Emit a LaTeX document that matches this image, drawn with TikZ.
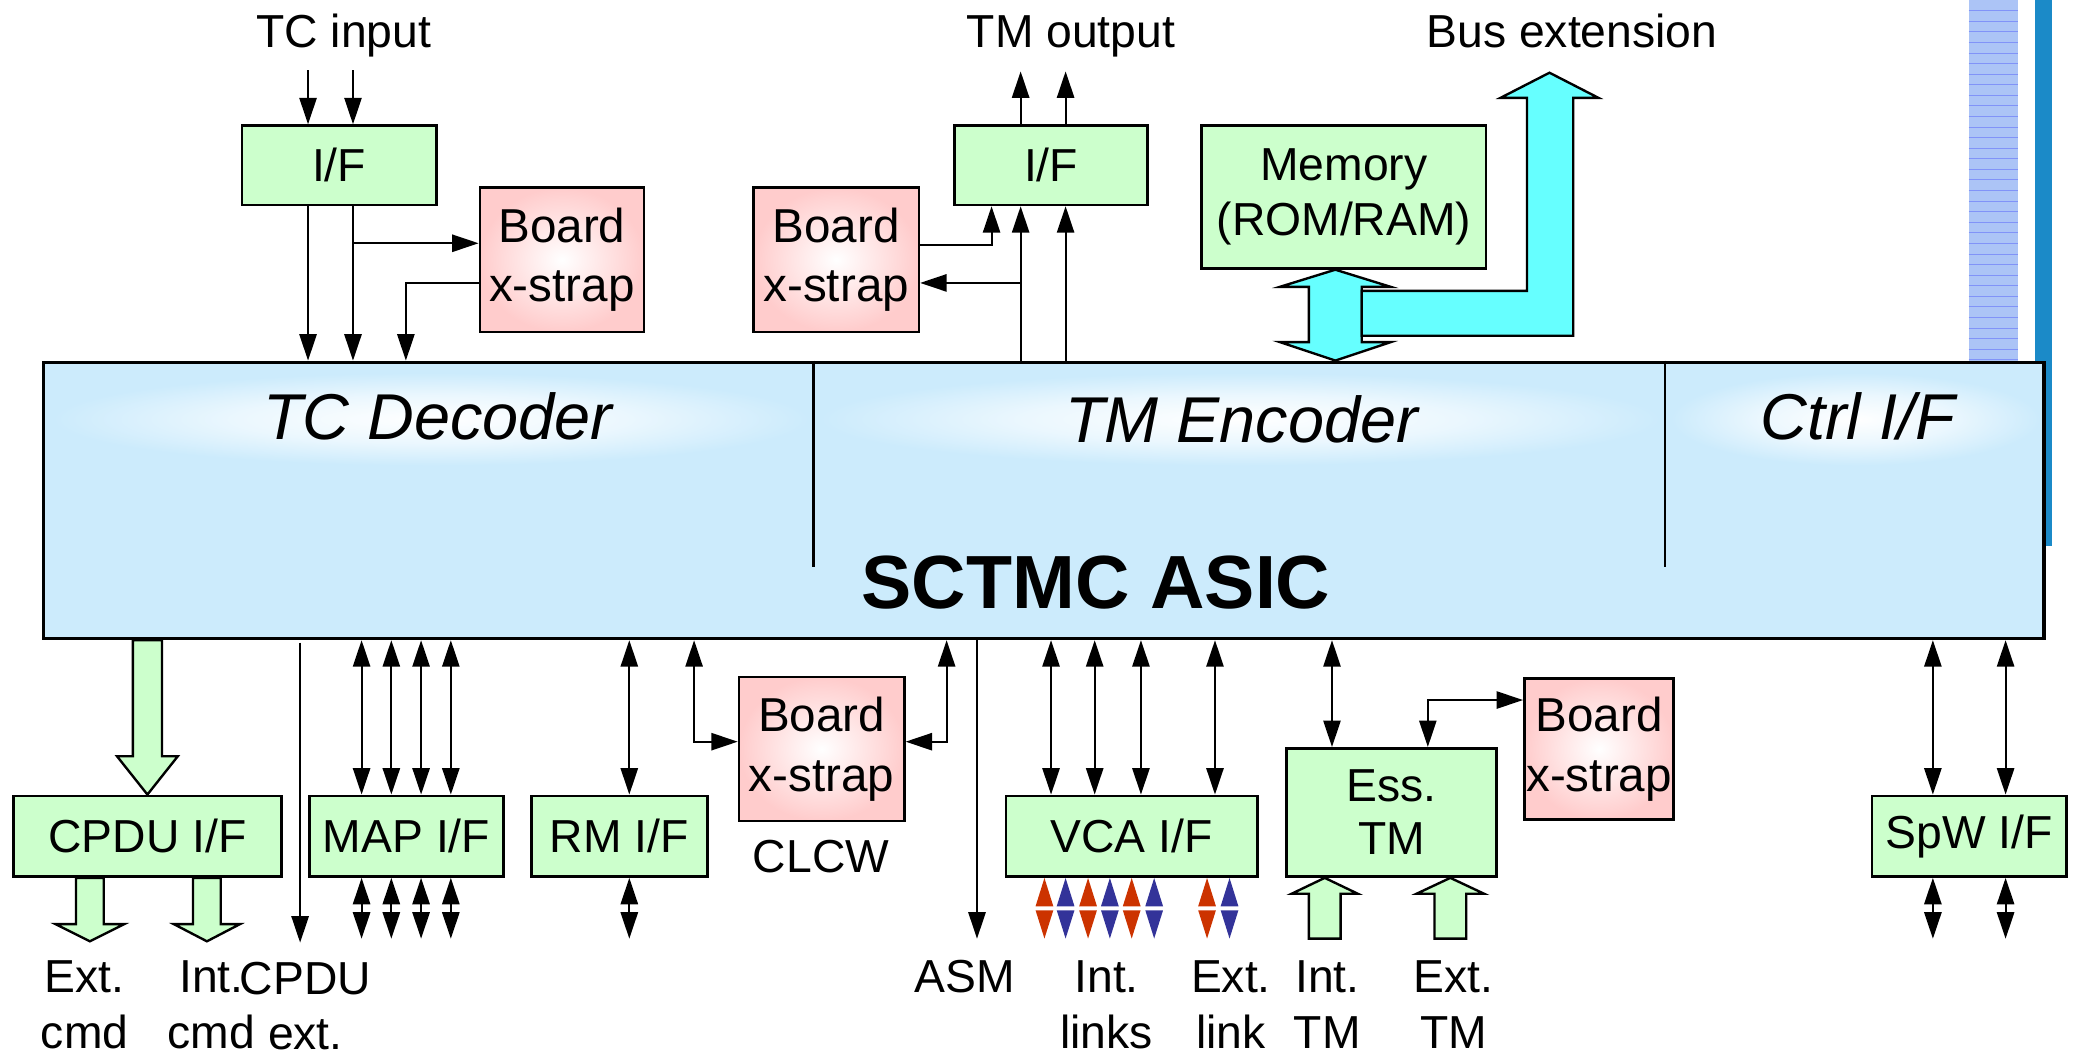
\documentclass[tikz,border=0pt]{standalone}
\usepackage{fontspec}
\setmainfont{Liberation Sans}
\usetikzlibrary{arrows.meta, positioning, calc}

\definecolor{asicblue}{RGB}{204,235,252}
\definecolor{ifgreen}{RGB}{204,255,204}
\definecolor{strappink}{RGB}{255,204,204}
\definecolor{buscyan}{RGB}{102,255,255}
\definecolor{linkred}{RGB}{204,51,0}
\definecolor{linkblue}{RGB}{51,51,153}
\definecolor{barblue}{RGB}{27,138,200}
\definecolor{hatchblue}{RGB}{172,196,246}

\pgfdeclareradialshading{glow}{\pgfpoint{0bp}{0bp}}%
  {color(0bp)=(white); color(13bp)=(white!60!asicblue); color(25bp)=(asicblue); color(50bp)=(asicblue)}

\newcommand\lblfont{\fontsize{35}{42}\selectfont}
\newcommand\secfont{\fontsize{49}{58}\selectfont\itshape}
\newcommand\chipfont{\fontsize{57}{68}\selectfont\bfseries}

% block arrow: [fill]{tail}{tip}{shaft half width}{head half width}{head length, + when pointing down}
\newcommand\fatarrow[6][ifgreen]{%
  \draw[fatline, fill = #1] let \p1 = (#2), \p2 = (#3) in
    (\x2-#4, \y1) -- (\x2-#4, \y2+#6) -- (\x2-#5, \y2+#6) -- (\x2, \y2) --
    (\x2+#5, \y2+#6) -- (\x2+#4, \y2+#6) -- (\x2+#4, \y1) -- cycle;}

\begin{document}
\begin{tikzpicture}[
      x = 1pt, y = -1pt, font = \lblfont,
      ifbox/.style    = {draw, fill = ifgreen, line width = 2pt, inner sep = 0pt, align = center},
      strapbox/.style = {draw, line width = 2pt, inner sep = 0pt, align = center,
                         inner color = white, outer color = strappink,
                         font = \fontsize{36}{45}\selectfont},
      chip/.style     = {draw, fill = asicblue, line width = 2.5pt, inner sep = 0pt},
      lbl/.style      = {align = center, inner sep = 0pt},
      sec/.style      = {font = \secfont, inner sep = 0pt},
      arr/.style      = {-{Triangle[length = 20pt, width = 13pt]}, line width = 1.6pt},
      barr/.style     = {{Triangle[length = 20pt, width = 13pt]}-{Triangle[length = 20pt, width = 13pt]},
                         line width = 1.6pt},
      lnk/.style      = {{Triangle[length = 21.5pt, width = 13pt, color = #1]}-{Triangle[length = 21.5pt, width = 13pt, color = #1]},
                         white, line width = 1.6pt},
      fatline/.style  = {draw = black, line width = 1.8pt, line join = miter},
      hatch/.style    = {draw = blue!25!hatchblue, line width = .5pt},
      div/.style      = {line width = 2pt}
    ]

  \useasboundingbox (0,0) rectangle (1568,800);

  % side bars -------------------------------------------------------------
  \fill[hatchblue] (1489,0) rectangle (1526,274);
  \foreach \y in {8,16,...,272}
    \draw[hatch] (1489,\y) -- (1526,\y);
  \fill[barblue] (1539,0) rectangle (1552,413);

  % asic ------------------------------------------------------------------
  \node[chip, minimum width = 1513pt, minimum height = 209pt] (asic) at (789.5,378.5) {};
  \shade[shading = glow] (40,282) rectangle (612,352);
  \shade[shading = glow] (620,282) rectangle (1256,352);
  \shade[shading = glow] (1264,282) rectangle (1543,352);
  \draw[div] (asic.north -| 615.5,0) -- (615.5,429);
  \draw[div] (asic.north -| 1259.5,0) -- (1259.5,429);

  \node[sec] (tcdec) at (331,315) {TC Decoder};
  \node[sec] (tmenc) at (939,317) {TM Encoder};
  \node[sec] (ctrl)  at (1405,315) {Ctrl I/F};
  \node[font = \chipfont, inner sep = 0pt] (chipname) at (829,441) {SCTMC ASIC};

  % tc side ---------------------------------------------------------------
  \node[lbl, anchor = base] (tcin) at (260,36) {TC input};
  \node[ifbox, minimum width = 147pt, minimum height = 60pt] (tcif) at (256.5,125) {I/F};
  \node[strapbox, minimum width = 124pt, minimum height = 109pt] (tcstrap) at (425,196.5)
        {Board\\x-strap};

  \foreach \x in {233,267} {
    \draw[arr] (\x,53) -- (tcif.north -| \x,0);
    \draw[arr] (tcif.south -| \x,0) -- (asic.north -| \x,0);
  }
  \draw[arr] (267,184) -- (tcstrap.west |- 0,184);
  \draw[arr] (tcstrap.west |- 0,214) -- (307,214) -- (asic.north -| 307,0);

  % tm side ---------------------------------------------------------------
  \node[lbl, anchor = base] (tmout) at (810,36) {TM output};
  \node[ifbox, minimum width = 146pt, minimum height = 60pt] (tmif) at (795,125) {I/F};
  \node[strapbox, minimum width = 125pt, minimum height = 109pt] (tmstrap) at (632.5,196.5)
        {Board\\x-strap};

  \foreach \x in {772,806} {
    \draw[arr] (tmif.north -| \x,0) -- (\x,54);
    \draw[arr] (asic.north -| \x,0) -- (tmif.south -| \x,0);
  }
  \draw[arr] (tmstrap.east |- 0,185) -- (750,185) -- (tmif.south -| 750,0);
  \draw[arr] (772,214) -- (tmstrap.east |- 0,214);

  % memory and bus --------------------------------------------------------
  \node[ifbox, minimum width = 215pt, minimum height = 108pt] (memory) at (1016.5,149)
        {Memory\\(ROM/RAM)};
  \node[lbl, anchor = base] (busext) at (1189,36) {Bus extension};

  \draw[fatline, fill = buscyan] let \p1 = (memory.south -| 1010,0), \p2 = (asic.north -| 1010,0) in
    (\x1,\y1) -- (\x1+42pt,\y1-13pt) -- (\x1+20pt,\y1-13pt) -- (\x2+20pt,\y2+14pt)
    -- (\x2+42pt,\y2+14pt) -- (\x2,\y2) -- (\x2-42pt,\y2+14pt) -- (\x2-20pt,\y2+14pt)
    -- (\x1-20pt,\y1-13pt) -- (\x1-42pt,\y1-13pt) -- cycle;
  \draw[fatline, fill = buscyan] (1030,220) -- (1155,220) -- (1155,74) -- (1135,74) -- (1172,55)
    -- (1209,74) -- (1190,74) -- (1190,254) -- (1030,254) -- cycle;

  % cpdu ------------------------------------------------------------------
  \node[ifbox, minimum width = 203pt, minimum height = 61pt] (cpdu) at (111.5,632.5) {CPDU I/F};
  \fatarrow{asic.south -| 111.5,0}{cpdu.north -| 111.5,0}{11pt}{23pt}{29pt}
  \fatarrow{cpdu.south -| 68,0}{68,712}{10.5pt}{26pt}{13pt}
  \fatarrow{cpdu.south -| 156.5,0}{156.5,712}{10.5pt}{25pt}{13pt}
  \node[lbl] (extcmd) at (64,760) {Ext.\\cmd};
  \node[lbl] (intcmd) at (160,760) {Int.\\cmd};

  \draw[arr] (227,486) -- (227,713);
  \node[lbl] (cpduext) at (231,761) {CPDU\\ext.};

  % map, rm ---------------------------------------------------------------
  \node[ifbox, minimum width = 147pt, minimum height = 61pt] (mapif) at (307.5,632.5) {MAP I/F};
  \foreach \x in {273.5,296,318.5,341} {
    \draw[barr] (asic.south -| \x,0) -- (mapif.north -| \x,0);
    \draw[barr] (mapif.south -| \x,0) -- (\x,710);
  }

  \node[ifbox, minimum width = 133pt, minimum height = 61pt] (rmif) at (468.5,632.5) {RM I/F};
  \draw[barr] (asic.south -| 476,0) -- (rmif.north -| 476,0);
  \draw[barr] (rmif.south -| 476,0) -- (476,710);

  % clcw ------------------------------------------------------------------
  \node[strapbox, minimum width = 125pt, minimum height = 109pt] (clcwstrap) at (621.5,566.5)
        {Board\\x-strap};
  \node[lbl, anchor = base] (clcw) at (621,660) {CLCW};
  \draw[barr] (asic.south -| 525,0) -- (525,561) -- (clcwstrap.west |- 0,561);
  \draw[barr] (asic.south -| 716,0) -- (716,561) -- (clcwstrap.east |- 0,561);

  % asm -------------------------------------------------------------------
  \draw[arr] (asic.south -| 739,0) -- (739,710);
  \node[lbl, anchor = base] (asm) at (730,751) {ASM};

  % vca -------------------------------------------------------------------
  \node[ifbox, minimum width = 190pt, minimum height = 61pt] (vcaif) at (856,632.5) {VCA I/F};
  \foreach \x in {795,828,863,919}
    \draw[barr] (asic.south -| \x,0) -- (vcaif.north -| \x,0);
  \foreach \x/\c in {790/linkred, 806/linkblue, 823/linkred, 839.5/linkblue,
                     856/linkred, 873/linkblue, 913/linkred, 930/linkblue}
    \draw[lnk = \c] (vcaif.south -| \x,0) -- (\x,710);
  \node[lbl] (intlinks) at (837,760) {Int.\\links};
  \node[lbl] (extlink)  at (931,760) {Ext.\\link};

  % essential tm ----------------------------------------------------------
  \node[ifbox, minimum width = 159pt, minimum height = 97pt, font = \fontsize{35}{40}\selectfont]
        (esstm) at (1052.5,614.5) {Ess.\\TM};
  \node[strapbox, minimum width = 113pt, minimum height = 107pt] (essstrap) at (1209.5,566.5)
        {Board\\x-strap};
  \draw[barr] (asic.south -| 1007.5,0) -- (esstm.north -| 1007.5,0);
  \draw[barr] (esstm.north -| 1080,0) -- (1080,529.5) -- (essstrap.west |- 0,529.5);
  \fatarrow{1002,710}{esstm.south -| 1002,0}{12pt}{25pt}{-12pt}
  \fatarrow{1097,710}{esstm.south -| 1097,0}{12pt}{25.5pt}{-12pt}
  \node[lbl] (inttm) at (1004,760) {Int.\\TM};
  \node[lbl] (exttm) at (1099.5,760) {Ext.\\TM};

  % spacewire -------------------------------------------------------------
  \node[ifbox, minimum width = 147pt, minimum height = 61pt] (spwif) at (1489.5,632.5) {SpW I/F};
  \foreach \x in {1462,1517} {
    \draw[barr] (asic.south -| \x,0) -- (spwif.north -| \x,0);
    \draw[barr] (spwif.south -| \x,0) -- (\x,710);
  }

\end{tikzpicture}
\end{document}
